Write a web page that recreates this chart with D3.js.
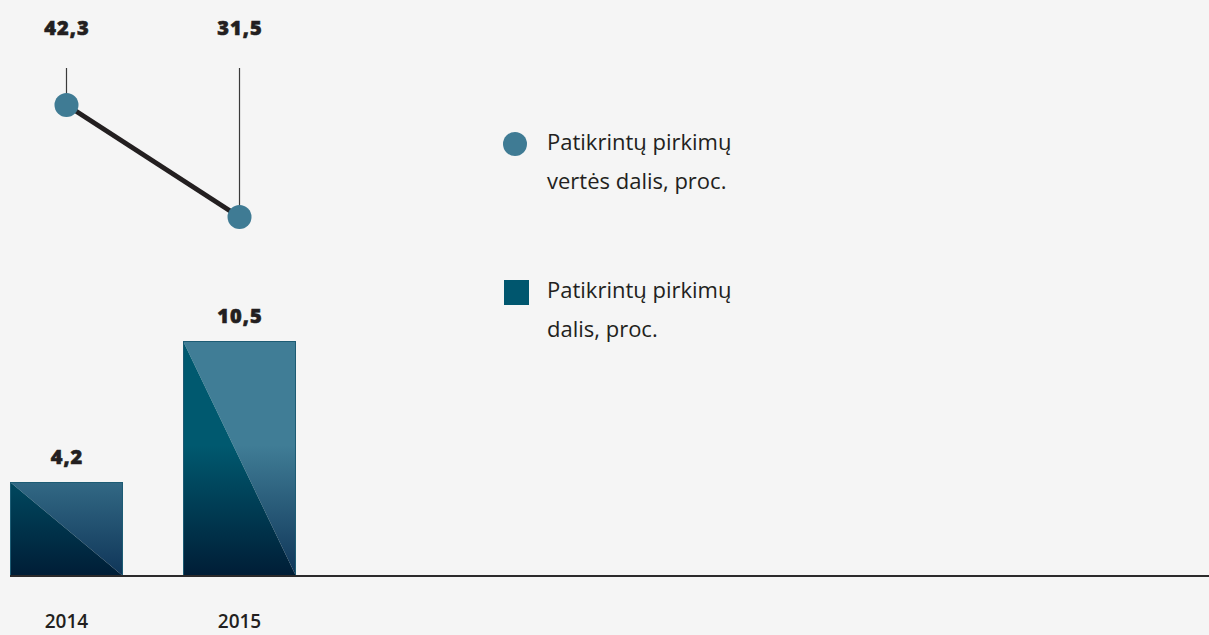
<!DOCTYPE html>
<html>
<head>
<meta charset="utf-8">
<script src="https://cdn.jsdelivr.net/npm/d3@7"></script>
<style>
  body { margin: 0; background: #f5f5f5; }
  svg { display: block; }
</style>
</head>
<body>
<script>
var width = 1209,
    height = 635;

// data
var years = ['2014', '2015'];
var shareValue = [42.3, 31.5];   // Patikrintų pirkimų vertės dalis, proc.
var shareCount = [4.2, 10.5];    // Patikrintų pirkimų dalis, proc.
var legendLabels = [
  ['Patikrintų pirkimų', 'vertės dalis, proc.'],
  ['Patikrintų pirkimų', 'dalis, proc.']
];

var fmt = function(v) { return String(v).replace('.', ','); };

var svg = d3.select('body').append('svg')
    .attr('width', width)
    .attr('height', height);

svg.append('rect')
    .attr('width', width)
    .attr('height', height)
    .attr('fill', '#f5f5f5');

var defs = svg.append('defs');

// gradients for the two halves of each bar
function grad(id, top, bottom) {
  var g = defs.append('linearGradient')
      .attr('id', id)
      .attr('gradientUnits', 'userSpaceOnUse')
      .attr('x1', 0).attr('x2', 0)
      .attr('y1', 445).attr('y2', 576);
  g.append('stop').attr('offset', '0%').attr('stop-color', top);
  g.append('stop').attr('offset', '100%').attr('stop-color', bottom);
}
grad('darkHalf', '#00596f', '#001d36');
grad('lightHalf', '#407d96', '#0f3558');

var baseY = 576;

var x = d3.scaleBand()
    .domain(years)
    .range([10, 296])
    .paddingInner(0.347)
    .paddingOuter(0);

var yBar = d3.scaleLinear()
    .domain([0, 10.5])
    .range([baseY, 341]);

var yLine = d3.scaleLinear()
    .domain([31.5, 42.3])
    .range([217, 105]);

var bars = years.map(function(y, i) { return {year: y, v: shareCount[i], p: shareValue[i]}; });

// value label style (heavy)
function heavy(sel) {
  sel.attr('text-anchor', 'middle')
    .style('font-family', '"Open Sans"')
    .style('font-weight', 800)
    .style('font-size', '20px')
    .style('letter-spacing', '1px')
    .attr('fill', '#231f20')
    .attr('stroke', '#231f20')
    .attr('stroke-width', 0.6);
}

// bars: two triangles each
var bar = svg.append('g').selectAll('g')
    .data(bars)
    .enter().append('g');

bar.append('path')
    .attr('fill', 'url(#lightHalf)')
    .attr('d', function(d) {
      var x0 = x(d.year), x1 = x0 + x.bandwidth(), t = yBar(d.v);
      return 'M' + x0 + ',' + t + 'L' + x1 + ',' + t + 'L' + x1 + ',' + baseY + 'Z';
    });

bar.append('path')
    .attr('fill', 'url(#darkHalf)')
    .attr('d', function(d) {
      var x0 = x(d.year), x1 = x0 + x.bandwidth(), t = yBar(d.v);
      return 'M' + x0 + ',' + t + 'L' + x0 + ',' + baseY + 'L' + x1 + ',' + baseY + 'Z';
    });

bar.append('rect')
    .attr('x', function(d) { return x(d.year) + 0.5; })
    .attr('y', function(d) { return yBar(d.v) + 0.5; })
    .attr('width', x.bandwidth() - 1)
    .attr('height', function(d) { return baseY - yBar(d.v) - 1; })
    .attr('fill', 'none')
    .attr('stroke', '#1d5c74')
    .attr('stroke-width', 1);

// bar value labels
bar.append('text')
    .attr('x', function(d) { return x(d.year) + x.bandwidth() / 2 + 0.5; })
    .attr('y', function(d) { return yBar(d.v) - 18; })
    .call(heavy)
    .text(function(d) { return fmt(d.v); });

// baseline
svg.append('line')
    .attr('x1', 10).attr('x2', width)
    .attr('y1', baseY).attr('y2', baseY)
    .attr('stroke', '#2b2a2b')
    .attr('stroke-width', 2);

// year labels
svg.append('g').selectAll('text')
    .data(bars)
    .enter().append('text')
    .attr('x', function(d) { return x(d.year) + x.bandwidth() / 2; })
    .attr('y', 628)
    .attr('text-anchor', 'middle')
    .style('font-family', '"Open Sans"')
    .style('font-weight', 600)
    .style('font-size', '19px')
    .attr('fill', '#231f20')
    .text(function(d) { return d.year; });

// line series
var cx = function(d) { return x(d.year) + x.bandwidth() / 2; };

svg.append('g').selectAll('line')
    .data(bars)
    .enter().append('line')
    .attr('x1', cx).attr('x2', cx)
    .attr('y1', 68)
    .attr('y2', function(d) { return yLine(d.p); })
    .attr('stroke', '#3a3a3a')
    .attr('stroke-width', 1.2);

svg.append('path')
    .datum(bars)
    .attr('fill', 'none')
    .attr('stroke', '#231f20')
    .attr('stroke-width', 5)
    .attr('d', d3.line().x(cx).y(function(d) { return yLine(d.p); }));

svg.append('g').selectAll('circle')
    .data(bars)
    .enter().append('circle')
    .attr('cx', cx)
    .attr('cy', function(d) { return yLine(d.p); })
    .attr('r', 12)
    .attr('fill', '#3f7b94');

svg.append('g').selectAll('text')
    .data(bars)
    .enter().append('text')
    .attr('x', function(d) { return cx(d) + 0.5; })
    .attr('y', 35)
    .call(heavy)
    .text(function(d) { return fmt(d.p); });

// legend
var legend = svg.append('g');

legend.append('circle')
    .attr('cx', 515).attr('cy', 144).attr('r', 12)
    .attr('fill', '#3f7b94');

legend.append('rect')
    .attr('x', 504).attr('y', 280)
    .attr('width', 25).attr('height', 25)
    .attr('fill', '#00566e');

var legendY = [150, 298];
legendLabels.forEach(function(lines, i) {
  legend.append('text')
      .attr('x', 547)
      .attr('y', legendY[i])
      .style('font-family', '"Open Sans"')
      .style('font-size', '22px')
      .attr('fill', '#231f20')
    .selectAll('tspan')
      .data(lines)
      .enter().append('tspan')
      .attr('x', 547)
      .attr('dy', function(d, j) { return j ? 38.5 : 0; })
      .text(function(d) { return d; });
});
</script>
</body>
</html>
